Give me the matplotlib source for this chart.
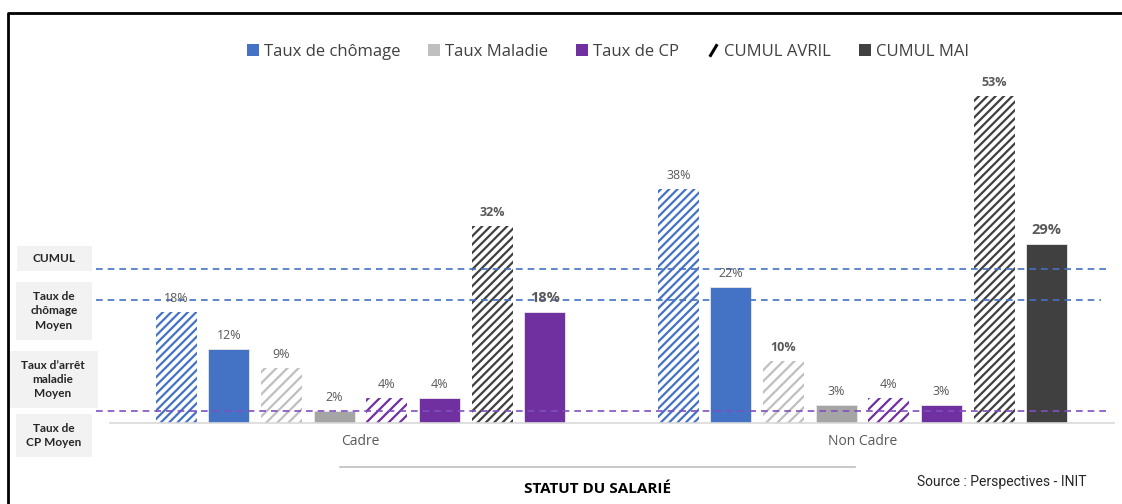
import numpy as np
import matplotlib.pyplot as plt
from matplotlib.patches import Patch, Rectangle
from matplotlib.lines import Line2D

plt.rcParams['font.family'] = ['Open Sans', 'DejaVu Sans']
plt.rcParams['hatch.linewidth'] = 1.6

# donnees
categories = ['Cadre', 'Non Cadre']
chomage_avril = [18, 38]
chomage_mai = [12, 22]
maladie_avril = [9, 10]
maladie_mai = [2, 3]
cp_avril = [4, 4]
cp_mai = [4, 3]
cumul_avril = [32, 53]
cumul_mai = [18, 29]

moy_cumul = 25
moy_chomage = 20
moy_cp = 2

legende = ['Taux de chômage', 'Taux Maladie', 'Taux de CP', 'CUMUL AVRIL', 'CUMUL MAI']
boites = ['CUMUL', 'Taux de\nchômage\nMoyen', 'Taux d\u2019arrêt\nmaladie\nMoyen', 'Taux de\nCP Moyen']

BLEU = '#4472C4'
GRIS = '#A5A5A5'
GRIS_CLAIR = '#BFBFBF'
VIOLET = '#7030A0'
NOIR = '#404040'
TXT = '#595959'

fig = plt.figure(figsize=(11.22, 5.04), dpi=100)
W, H = 1122, 504
ax = fig.add_axes([109.5 / W, (H - 423) / H, 1004 / W, 339 / H])

x = np.arange(len(categories))
pas = 0.1048
larg = 0.0817

series = [
    (chomage_avril, BLEU, '////', False),
    (chomage_mai, BLEU, None, False),
    (maladie_avril, GRIS_CLAIR, '///', False),
    (maladie_mai, GRIS, None, False),
    (cp_avril, VIOLET, '///', False),
    (cp_mai, VIOLET, None, False),
    (cumul_avril, NOIR, '////', True),
    (cumul_mai, [VIOLET, NOIR], None, True),
]

for i, (vals, col, hatch, gras) in enumerate(series):
    pos = x + (i - 3.5) * pas
    if hatch:
        bars = ax.bar(pos, vals, larg, color='white', edgecolor=col,
                      hatch=hatch, linewidth=0, zorder=2)
    else:
        bars = ax.bar(pos, vals, larg, color=col, edgecolor='#e8e8e8',
                      linewidth=0.6, zorder=2)
    for j, b in enumerate(bars):
        v = vals[j]
        taille = 9
        poids = 'normal'
        if gras:
            poids = 'bold'
        if i == 7:
            taille = 10.5
        if i == 2 and j == 1:
            poids = 'bold'
        ax.annotate(f'{v}%', (b.get_x() + b.get_width() / 2, v),
                    xytext=(0, 5), textcoords='offset points',
                    ha='center', va='bottom', fontsize=taille,
                    fontweight=poids, color=TXT, zorder=4)

# lignes des moyennes
for val, col, xfin in [(moy_cumul, BLEU, 0.995), (moy_chomage, BLEU, 0.988),
                       (moy_cp, '#7F4FBF', 0.995)]:
    ax.axhline(val, xmin=-0.013, xmax=xfin, color=col, lw=1.2,
               ls=(0, (4, 3)), zorder=3, clip_on=False)

ax.set_xlim(-0.5, 1.5)
ax.set_ylim(0, 55)
ax.set_xticks(x)
ax.set_xticklabels(categories, fontsize=10, color=TXT)
ax.tick_params(axis='x', length=0, pad=8)
ax.set_yticks([])
for s in ['top', 'right', 'left']:
    ax.spines[s].set_visible(False)
ax.spines['bottom'].set_color('#d9d9d9')
ax.spines['bottom'].set_linewidth(1.2)

# legende
poignees = [
    Patch(facecolor=BLEU),
    Patch(facecolor=GRIS_CLAIR),
    Patch(facecolor=VIOLET),
    Line2D([], [], ls='none', marker=[(-0.6, -1), (0.6, 1)], color='black',
           markersize=9, markeredgewidth=2.2),
    Patch(facecolor=NOIR),
]
fig.legend(poignees, legende, loc='center', bbox_to_anchor=(608 / W, 1 - 52 / H),
           ncol=5, frameon=False, fontsize=12, handlelength=0.7,
           handleheight=0.7, handletextpad=0.3, columnspacing=1.7,
           labelcolor='#404040')

# boites a gauche
zones = [(17, 246, 92, 271), (16, 282, 92, 340), (8, 351, 98, 408), (16, 414, 92, 457)]
for txt, (x0, y0, x1, y1) in zip(boites, zones):
    fig.patches.append(Rectangle((x0 / W, 1 - y1 / H), (x1 - x0) / W, (y1 - y0) / H,
                                 transform=fig.transFigure, facecolor='#f2f2f2',
                                 edgecolor='none', zorder=0))
    fig.text((x0 + x1) / 2 / W, 1 - (y0 + y1) / 2 / H, txt, ha='center', va='center',
             fontsize=8.5, fontweight='bold', color='#262626', linespacing=1.35,
             family=['Lato', 'DejaVu Sans'])

# titre axe et source
fig.add_artist(Line2D([340 / W, 855 / W], [1 - 467 / H, 1 - 467 / H],
                      color='#bfbfbf', lw=1.2))
fig.text(597 / W, 1 - 489 / H, 'STATUT DU SALARIÉ', ha='center', va='center',
         fontsize=11, fontweight='bold', color='black')
fig.text(1002 / W, 1 - 482 / H, 'Source : Perspectives - INIT', ha='center', va='center',
         fontsize=10, color='#262626', family=['Roboto', 'DejaVu Sans'])

# cadre
fig.add_artist(Line2D([7.5 / W, 7.5 / W, 1.0], [0, 1 - 12.5 / H, 1 - 12.5 / H],
                      color='black', lw=2))

fig.savefig('out.png', dpi=100)
